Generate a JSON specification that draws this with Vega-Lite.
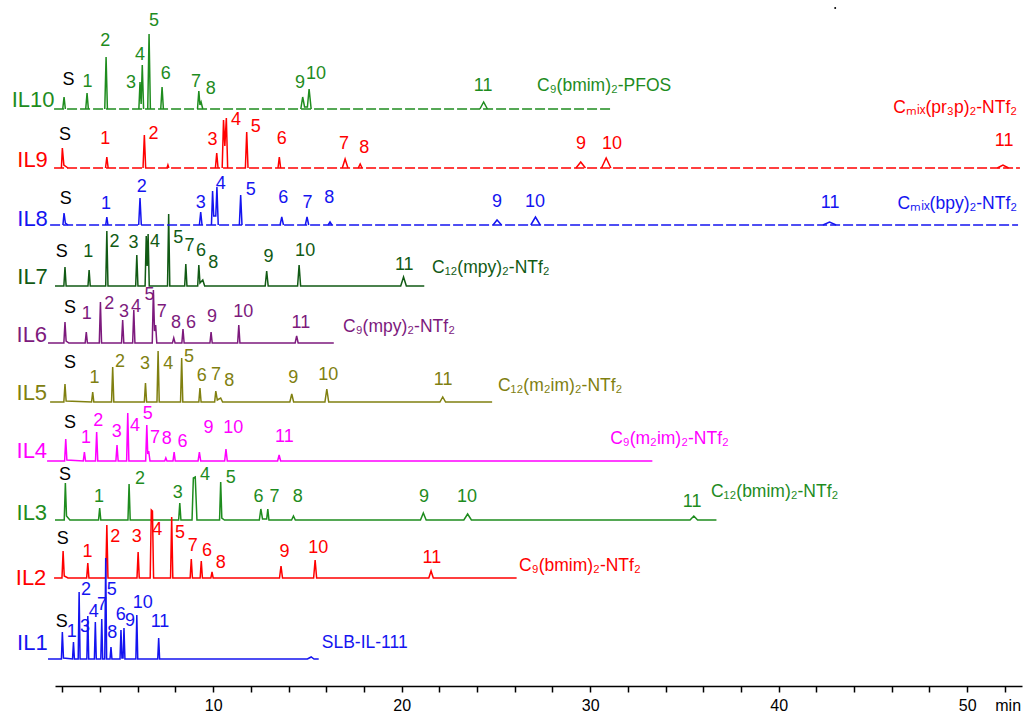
{
"$schema": "https://vega.github.io/schema/vega-lite/v6.json",
"width": 967, "height": 686,
"autosize": {"type": "none"},
"padding": {"left": 55, "right": 1, "top": 0, "bottom": 29},
"background": "white",
"config": {"view": {"stroke": null}, "font": "Liberation Sans"},
"datasets": {
"traces": [
{"s":"IL10","g":"IL10b","d":"dash","t":1.56,"v":577},{"s":"IL10","g":"IL10b","d":"dash","t":31.2,"v":577},
{"s":"IL10","g":"IL10p1","t":2.02,"v":577},{"s":"IL10","g":"IL10p1","t":2.09,"v":589},{"s":"IL10","g":"IL10p1","t":2.16,"v":577},
{"s":"IL10","g":"IL10p2","t":3.24,"v":577},{"s":"IL10","g":"IL10p2","t":3.31,"v":593},{"s":"IL10","g":"IL10p2","t":3.38,"v":577},
{"s":"IL10","g":"IL10p3","t":4.25,"v":577},{"s":"IL10","g":"IL10p3","t":4.32,"v":629},{"s":"IL10","g":"IL10p3","t":4.39,"v":577},
{"s":"IL10","g":"IL10p4","t":6.06,"v":577},{"s":"IL10","g":"IL10p4","t":6.12,"v":604},{"s":"IL10","g":"IL10p4","t":6.18,"v":582},{"s":"IL10","g":"IL10p4","t":6.24,"v":621},{"s":"IL10","g":"IL10p4","t":6.31,"v":577},
{"s":"IL10","g":"IL10p5","t":6.53,"v":577},{"s":"IL10","g":"IL10p5","t":6.60,"v":652},{"s":"IL10","g":"IL10p5","t":6.67,"v":577},
{"s":"IL10","g":"IL10p6","t":7.22,"v":577},{"s":"IL10","g":"IL10p6","t":7.29,"v":599},{"s":"IL10","g":"IL10p6","t":7.36,"v":577},
{"s":"IL10","g":"IL10p7","t":9.17,"v":577},{"s":"IL10","g":"IL10p7","t":9.24,"v":595},{"s":"IL10","g":"IL10p7","t":9.30,"v":581},{"s":"IL10","g":"IL10p7","t":9.36,"v":584},{"s":"IL10","g":"IL10p7","t":9.45,"v":577},
{"s":"IL10","g":"IL10p8","t":14.65,"v":577},{"s":"IL10","g":"IL10p8","t":14.75,"v":589},{"s":"IL10","g":"IL10p8","t":14.85,"v":579},{"s":"IL10","g":"IL10p8","t":15.00,"v":579},{"s":"IL10","g":"IL10p8","t":15.09,"v":597},{"s":"IL10","g":"IL10p8","t":15.20,"v":577},
{"s":"IL10","g":"IL10p9","t":24.15,"v":577},{"s":"IL10","g":"IL10p9","t":24.35,"v":584},{"s":"IL10","g":"IL10p9","t":24.55,"v":577},
{"s":"IL9","g":"IL9b","d":"dash","t":1.56,"v":518},{"s":"IL9","g":"IL9b","d":"dash","t":52.80,"v":518},
{"s":"IL9","g":"IL9p1","t":1.95,"v":518},{"s":"IL9","g":"IL9p1","t":2.00,"v":538},{"s":"IL9","g":"IL9p1","t":2.08,"v":521},{"s":"IL9","g":"IL9p1","t":2.30,"v":518},
{"s":"IL9","g":"IL9p2","t":4.29,"v":518},{"s":"IL9","g":"IL9p2","t":4.36,"v":529},{"s":"IL9","g":"IL9p2","t":4.43,"v":518},
{"s":"IL9","g":"IL9p3","t":6.28,"v":518},{"s":"IL9","g":"IL9p3","t":6.35,"v":551},{"s":"IL9","g":"IL9p3","t":6.42,"v":518},
{"s":"IL9","g":"IL9p4","t":7.55,"v":518},{"s":"IL9","g":"IL9p4","t":7.60,"v":521},{"s":"IL9","g":"IL9p4","t":7.65,"v":518},
{"s":"IL9","g":"IL9p5","t":10.12,"v":518},{"s":"IL9","g":"IL9p5","t":10.19,"v":533},{"s":"IL9","g":"IL9p5","t":10.26,"v":518},
{"s":"IL9","g":"IL9p6","t":10.48,"v":518},{"s":"IL9","g":"IL9p6","t":10.55,"v":566},{"s":"IL9","g":"IL9p6","t":10.62,"v":540},{"s":"IL9","g":"IL9p6","t":10.70,"v":568},{"s":"IL9","g":"IL9p6","t":10.77,"v":518},
{"s":"IL9","g":"IL9p7","t":11.71,"v":518},{"s":"IL9","g":"IL9p7","t":11.78,"v":554},{"s":"IL9","g":"IL9p7","t":11.85,"v":518},
{"s":"IL9","g":"IL9p8","t":13.44,"v":518},{"s":"IL9","g":"IL9p8","t":13.51,"v":529},{"s":"IL9","g":"IL9p8","t":13.58,"v":518},
{"s":"IL9","g":"IL9p9","t":16.85,"v":518},{"s":"IL9","g":"IL9p9","t":17.00,"v":527},{"s":"IL9","g":"IL9p9","t":17.15,"v":518},
{"s":"IL9","g":"IL9p10","t":17.70,"v":518},{"s":"IL9","g":"IL9p10","t":17.80,"v":522},{"s":"IL9","g":"IL9p10","t":17.90,"v":518},
{"s":"IL9","g":"IL9p11","t":29.25,"v":518},{"s":"IL9","g":"IL9p11","t":29.50,"v":524},{"s":"IL9","g":"IL9p11","t":29.75,"v":518},
{"s":"IL9","g":"IL9p12","t":30.60,"v":518},{"s":"IL9","g":"IL9p12","t":30.85,"v":528},{"s":"IL9","g":"IL9p12","t":31.10,"v":518},
{"s":"IL9","g":"IL9p13","t":51.60,"v":518},{"s":"IL9","g":"IL9p13","t":51.90,"v":521},{"s":"IL9","g":"IL9p13","t":52.20,"v":518},
{"s":"IL8","g":"IL8b","d":"dash","t":1.35,"v":461},{"s":"IL8","g":"IL8b","d":"dash","t":52.70,"v":461},
{"s":"IL8","g":"IL8p1","t":2.03,"v":461},{"s":"IL8","g":"IL8p1","t":2.09,"v":473},{"s":"IL8","g":"IL8p1","t":2.16,"v":463},{"s":"IL8","g":"IL8p1","t":2.30,"v":461},
{"s":"IL8","g":"IL8p2","t":4.30,"v":461},{"s":"IL8","g":"IL8p2","t":4.36,"v":469},{"s":"IL8","g":"IL8p2","t":4.42,"v":461},
{"s":"IL8","g":"IL8p3","t":6.05,"v":461},{"s":"IL8","g":"IL8p3","t":6.12,"v":488},{"s":"IL8","g":"IL8p3","t":6.19,"v":461},
{"s":"IL8","g":"IL8p4","t":9.27,"v":461},{"s":"IL8","g":"IL8p4","t":9.34,"v":474},{"s":"IL8","g":"IL8p4","t":9.41,"v":461},
{"s":"IL8","g":"IL8p5","t":9.91,"v":461},{"s":"IL8","g":"IL8p5","t":9.97,"v":495},{"s":"IL8","g":"IL8p5","t":10.03,"v":470},{"s":"IL8","g":"IL8p5","t":10.14,"v":470},{"s":"IL8","g":"IL8p5","t":10.20,"v":499},{"s":"IL8","g":"IL8p5","t":10.27,"v":461},
{"s":"IL8","g":"IL8p6","t":11.39,"v":461},{"s":"IL8","g":"IL8p6","t":11.46,"v":491},{"s":"IL8","g":"IL8p6","t":11.53,"v":461},
{"s":"IL8","g":"IL8p7","t":13.55,"v":461},{"s":"IL8","g":"IL8p7","t":13.64,"v":469},{"s":"IL8","g":"IL8p7","t":13.73,"v":461},
{"s":"IL8","g":"IL8p8","t":14.89,"v":461},{"s":"IL8","g":"IL8p8","t":14.98,"v":469},{"s":"IL8","g":"IL8p8","t":15.07,"v":461},
{"s":"IL8","g":"IL8p9","t":16.10,"v":461},{"s":"IL8","g":"IL8p9","t":16.20,"v":464},{"s":"IL8","g":"IL8p9","t":16.30,"v":461},
{"s":"IL8","g":"IL8p10","t":24.85,"v":461},{"s":"IL8","g":"IL8p10","t":25.06,"v":466},{"s":"IL8","g":"IL8p10","t":25.30,"v":461},
{"s":"IL8","g":"IL8p11","t":26.85,"v":461},{"s":"IL8","g":"IL8p11","t":27.10,"v":469},{"s":"IL8","g":"IL8p11","t":27.35,"v":461},
{"s":"IL8","g":"IL8p12","t":42.35,"v":461},{"s":"IL8","g":"IL8p12","t":42.70,"v":464},{"s":"IL8","g":"IL8p12","t":43.05,"v":461},
{"s":"IL7","t":1.61,"v":400},{"s":"IL7","t":2.08,"v":400},{"s":"IL7","t":2.14,"v":419},{"s":"IL7","t":2.20,"v":400},{"s":"IL7","t":3.36,"v":400},{"s":"IL7","t":3.42,"v":416},{"s":"IL7","t":3.48,"v":400},{"s":"IL7","t":4.30,"v":400},{"s":"IL7","t":4.36,"v":455},{"s":"IL7","t":4.42,"v":400},{"s":"IL7","t":5.89,"v":400},{"s":"IL7","t":5.95,"v":431},{"s":"IL7","t":6.01,"v":400},{"s":"IL7","t":6.39,"v":400},{"s":"IL7","t":6.45,"v":450},{"s":"IL7","t":6.50,"v":420},{"s":"IL7","t":6.55,"v":452},{"s":"IL7","t":6.61,"v":400},{"s":"IL7","t":7.58,"v":400},{"s":"IL7","t":7.64,"v":472},{"s":"IL7","t":7.70,"v":400},{"s":"IL7","t":8.49,"v":400},{"s":"IL7","t":8.55,"v":422},{"s":"IL7","t":8.61,"v":400},{"s":"IL7","t":9.18,"v":400},{"s":"IL7","t":9.24,"v":421},{"s":"IL7","t":9.30,"v":403},{"s":"IL7","t":9.45,"v":406},{"s":"IL7","t":9.55,"v":400},{"s":"IL7","t":12.76,"v":400},{"s":"IL7","t":12.84,"v":415},{"s":"IL7","t":12.92,"v":400},{"s":"IL7","t":14.48,"v":400},{"s":"IL7","t":14.56,"v":421},{"s":"IL7","t":14.64,"v":400},{"s":"IL7","t":19.95,"v":400},{"s":"IL7","t":20.10,"v":409},{"s":"IL7","t":20.25,"v":400},{"s":"IL7","t":21.20,"v":400},
{"s":"IL6","t":1.24,"v":343},{"s":"IL6","t":2.08,"v":343},{"s":"IL6","t":2.14,"v":364},{"s":"IL6","t":2.20,"v":345},{"s":"IL6","t":2.35,"v":343},{"s":"IL6","t":3.21,"v":343},{"s":"IL6","t":3.27,"v":354},{"s":"IL6","t":3.33,"v":343},{"s":"IL6","t":3.96,"v":343},{"s":"IL6","t":4.02,"v":384},{"s":"IL6","t":4.08,"v":343},{"s":"IL6","t":5.14,"v":343},{"s":"IL6","t":5.20,"v":366},{"s":"IL6","t":5.26,"v":343},{"s":"IL6","t":5.73,"v":343},{"s":"IL6","t":5.79,"v":376},{"s":"IL6","t":5.85,"v":343},{"s":"IL6","t":6.77,"v":343},{"s":"IL6","t":6.83,"v":396},{"s":"IL6","t":6.89,"v":355},{"s":"IL6","t":6.95,"v":361},{"s":"IL6","t":7.01,"v":343},{"s":"IL6","t":7.84,"v":343},{"s":"IL6","t":7.91,"v":348},{"s":"IL6","t":7.98,"v":343},{"s":"IL6","t":8.34,"v":343},{"s":"IL6","t":8.40,"v":357},{"s":"IL6","t":8.46,"v":343},{"s":"IL6","t":9.83,"v":343},{"s":"IL6","t":9.89,"v":354},{"s":"IL6","t":9.95,"v":343},{"s":"IL6","t":11.30,"v":343},{"s":"IL6","t":11.36,"v":361},{"s":"IL6","t":11.42,"v":343},{"s":"IL6","t":14.35,"v":343},{"s":"IL6","t":14.43,"v":350},{"s":"IL6","t":14.51,"v":343},{"s":"IL6","t":16.40,"v":343},
{"s":"IL5","t":1.35,"v":284},{"s":"IL5","t":2.08,"v":284},{"s":"IL5","t":2.14,"v":302},{"s":"IL5","t":2.20,"v":285},{"s":"IL5","t":3.55,"v":284},{"s":"IL5","t":3.61,"v":294},{"s":"IL5","t":3.67,"v":284},{"s":"IL5","t":4.61,"v":284},{"s":"IL5","t":4.67,"v":319},{"s":"IL5","t":4.73,"v":284},{"s":"IL5","t":6.35,"v":284},{"s":"IL5","t":6.41,"v":303},{"s":"IL5","t":6.47,"v":284},{"s":"IL5","t":7.02,"v":284},{"s":"IL5","t":7.08,"v":335},{"s":"IL5","t":7.14,"v":284},{"s":"IL5","t":8.27,"v":284},{"s":"IL5","t":8.33,"v":328},{"s":"IL5","t":8.39,"v":284},{"s":"IL5","t":9.24,"v":284},{"s":"IL5","t":9.30,"v":298},{"s":"IL5","t":9.36,"v":284},{"s":"IL5","t":10.08,"v":284},{"s":"IL5","t":10.14,"v":295},{"s":"IL5","t":10.22,"v":286},{"s":"IL5","t":10.40,"v":288},{"s":"IL5","t":10.50,"v":284},{"s":"IL5","t":14.07,"v":284},{"s":"IL5","t":14.17,"v":292},{"s":"IL5","t":14.27,"v":284},{"s":"IL5","t":15.93,"v":284},{"s":"IL5","t":16.03,"v":297},{"s":"IL5","t":16.13,"v":284},{"s":"IL5","t":22.03,"v":284},{"s":"IL5","t":22.18,"v":289},{"s":"IL5","t":22.33,"v":284},{"s":"IL5","t":24.80,"v":284},
{"s":"IL4","t":1.19,"v":225},{"s":"IL4","t":2.12,"v":225},{"s":"IL4","t":2.18,"v":247},{"s":"IL4","t":2.24,"v":226},{"s":"IL4","t":3.11,"v":225},{"s":"IL4","t":3.17,"v":234},{"s":"IL4","t":3.23,"v":225},{"s":"IL4","t":3.76,"v":225},{"s":"IL4","t":3.82,"v":254},{"s":"IL4","t":3.88,"v":225},{"s":"IL4","t":4.84,"v":225},{"s":"IL4","t":4.90,"v":241},{"s":"IL4","t":4.96,"v":225},{"s":"IL4","t":5.41,"v":225},{"s":"IL4","t":5.47,"v":273},{"s":"IL4","t":5.53,"v":225},{"s":"IL4","t":6.42,"v":225},{"s":"IL4","t":6.48,"v":261},{"s":"IL4","t":6.53,"v":232},{"s":"IL4","t":6.58,"v":235},{"s":"IL4","t":6.65,"v":225},{"s":"IL4","t":7.43,"v":225},{"s":"IL4","t":7.49,"v":228},{"s":"IL4","t":7.55,"v":225},{"s":"IL4","t":7.87,"v":225},{"s":"IL4","t":7.93,"v":234},{"s":"IL4","t":7.99,"v":225},{"s":"IL4","t":9.20,"v":225},{"s":"IL4","t":9.27,"v":234},{"s":"IL4","t":9.34,"v":225},{"s":"IL4","t":10.61,"v":225},{"s":"IL4","t":10.68,"v":237},{"s":"IL4","t":10.75,"v":225},{"s":"IL4","t":13.42,"v":225},{"s":"IL4","t":13.50,"v":231},{"s":"IL4","t":13.58,"v":225},{"s":"IL4","t":33.30,"v":225},
{"s":"IL3","t":1.61,"v":166},{"s":"IL3","t":2.10,"v":166},{"s":"IL3","t":2.16,"v":203},{"s":"IL3","t":2.22,"v":170},{"s":"IL3","t":2.40,"v":166},{"s":"IL3","t":3.92,"v":166},{"s":"IL3","t":3.98,"v":178},{"s":"IL3","t":4.04,"v":166},{"s":"IL3","t":5.48,"v":166},{"s":"IL3","t":5.54,"v":202},{"s":"IL3","t":5.60,"v":166},{"s":"IL3","t":8.17,"v":166},{"s":"IL3","t":8.23,"v":183},{"s":"IL3","t":8.29,"v":166},{"s":"IL3","t":8.88,"v":166},{"s":"IL3","t":8.95,"v":208},{"s":"IL3","t":9.05,"v":209},{"s":"IL3","t":9.14,"v":166},{"s":"IL3","t":10.34,"v":166},{"s":"IL3","t":10.40,"v":204},{"s":"IL3","t":10.46,"v":168},{"s":"IL3","t":10.60,"v":166},{"s":"IL3","t":12.45,"v":166},{"s":"IL3","t":12.53,"v":177},{"s":"IL3","t":12.62,"v":167},{"s":"IL3","t":12.84,"v":167},{"s":"IL3","t":12.90,"v":177},{"s":"IL3","t":12.96,"v":166},{"s":"IL3","t":14.16,"v":166},{"s":"IL3","t":14.26,"v":170},{"s":"IL3","t":14.36,"v":166},{"s":"IL3","t":21.00,"v":166},{"s":"IL3","t":21.15,"v":173},{"s":"IL3","t":21.30,"v":166},{"s":"IL3","t":23.30,"v":166},{"s":"IL3","t":23.50,"v":172},{"s":"IL3","t":23.70,"v":166},{"s":"IL3","t":35.30,"v":166},{"s":"IL3","t":35.50,"v":170},{"s":"IL3","t":35.70,"v":166},{"s":"IL3","t":36.70,"v":166},
{"s":"IL2","t":1.56,"v":108},{"s":"IL2","t":1.98,"v":108},{"s":"IL2","t":2.04,"v":135},{"s":"IL2","t":2.10,"v":110},{"s":"IL2","t":2.30,"v":108},{"s":"IL2","t":3.29,"v":108},{"s":"IL2","t":3.35,"v":123},{"s":"IL2","t":3.41,"v":108},{"s":"IL2","t":4.30,"v":108},{"s":"IL2","t":4.36,"v":161},{"s":"IL2","t":4.42,"v":108},{"s":"IL2","t":5.96,"v":108},{"s":"IL2","t":6.02,"v":134},{"s":"IL2","t":6.08,"v":108},{"s":"IL2","t":6.66,"v":108},{"s":"IL2","t":6.72,"v":176},{"s":"IL2","t":6.78,"v":175},{"s":"IL2","t":6.84,"v":108},{"s":"IL2","t":7.74,"v":108},{"s":"IL2","t":7.80,"v":169},{"s":"IL2","t":7.86,"v":108},{"s":"IL2","t":8.78,"v":108},{"s":"IL2","t":8.84,"v":127},{"s":"IL2","t":8.90,"v":108},{"s":"IL2","t":9.31,"v":108},{"s":"IL2","t":9.37,"v":125},{"s":"IL2","t":9.43,"v":108},{"s":"IL2","t":9.88,"v":108},{"s":"IL2","t":9.94,"v":114},{"s":"IL2","t":10.00,"v":108},{"s":"IL2","t":13.52,"v":108},{"s":"IL2","t":13.60,"v":120},{"s":"IL2","t":13.68,"v":108},{"s":"IL2","t":15.33,"v":108},{"s":"IL2","t":15.41,"v":126},{"s":"IL2","t":15.49,"v":108},{"s":"IL2","t":21.44,"v":108},{"s":"IL2","t":21.56,"v":115},{"s":"IL2","t":21.68,"v":108},{"s":"IL2","t":26.10,"v":108},
{"s":"IL1","t":1.24,"v":27},{"s":"IL1","t":1.95,"v":27},{"s":"IL1","t":2.00,"v":54},{"s":"IL1","t":2.06,"v":28},{"s":"IL1","t":2.54,"v":27},{"s":"IL1","t":2.59,"v":44},{"s":"IL1","t":2.64,"v":27},{"s":"IL1","t":2.84,"v":27},{"s":"IL1","t":2.89,"v":94},{"s":"IL1","t":2.94,"v":27},{"s":"IL1","t":3.30,"v":27},{"s":"IL1","t":3.35,"v":70},{"s":"IL1","t":3.40,"v":27},{"s":"IL1","t":3.70,"v":27},{"s":"IL1","t":3.75,"v":64},{"s":"IL1","t":3.80,"v":27},{"s":"IL1","t":4.04,"v":27},{"s":"IL1","t":4.09,"v":67},{"s":"IL1","t":4.14,"v":27},{"s":"IL1","t":4.25,"v":27},{"s":"IL1","t":4.30,"v":128},{"s":"IL1","t":4.35,"v":27},{"s":"IL1","t":4.53,"v":27},{"s":"IL1","t":4.58,"v":39},{"s":"IL1","t":4.63,"v":27},{"s":"IL1","t":5.06,"v":27},{"s":"IL1","t":5.11,"v":56},{"s":"IL1","t":5.16,"v":28},{"s":"IL1","t":5.22,"v":28},{"s":"IL1","t":5.27,"v":58},{"s":"IL1","t":5.32,"v":27},{"s":"IL1","t":5.90,"v":27},{"s":"IL1","t":5.95,"v":71},{"s":"IL1","t":6.00,"v":27},{"s":"IL1","t":7.06,"v":27},{"s":"IL1","t":7.11,"v":48},{"s":"IL1","t":7.16,"v":27},{"s":"IL1","t":15.00,"v":27},{"s":"IL1","t":15.20,"v":29},{"s":"IL1","t":15.35,"v":27},{"s":"IL1","t":15.60,"v":27}
],
"labels": [
{"s":"S","t":2.32,"v":606,"lab":"S"},{"s":"IL10","t":3.33,"v":604.3,"lab":"1"},{"s":"IL10","t":4.27,"v":645.3,"lab":"2"},{"s":"IL10","t":5.64,"v":602.7,"lab":"3"},{"s":"IL10","t":6.12,"v":631,"lab":"4"},{"s":"IL10","t":6.86,"v":665.3,"lab":"5"},{"s":"IL10","t":7.49,"v":612,"lab":"6"},{"s":"IL10","t":9.09,"v":604.3,"lab":"7"},{"s":"IL10","t":9.87,"v":596.7,"lab":"8"},{"s":"IL10","t":14.61,"v":602.7,"lab":"9"},{"s":"IL10","t":15.46,"v":612,"lab":"10"},{"s":"IL10","t":24.32,"v":600,"lab":"11"},
{"s":"S","t":2.14,"v":551,"lab":"S"},{"s":"IL9","t":4.27,"v":546.7,"lab":"1"},{"s":"IL9","t":6.83,"v":552,"lab":"2"},{"s":"IL9","t":9.96,"v":546,"lab":"3"},{"s":"IL9","t":11.21,"v":566,"lab":"4"},{"s":"IL9","t":12.26,"v":559.3,"lab":"5"},{"s":"IL9","t":13.64,"v":546.7,"lab":"6"},{"s":"IL9","t":16.94,"v":542,"lab":"7"},{"s":"IL9","t":18.01,"v":538,"lab":"8"},{"s":"IL9","t":29.52,"v":542,"lab":"9"},{"s":"IL9","t":31.16,"v":542,"lab":"10"},{"s":"IL9","t":51.96,"v":545,"lab":"11"},
{"s":"S","t":2.18,"v":486.7,"lab":"S"},{"s":"IL8","t":4.32,"v":482,"lab":"1"},{"s":"IL8","t":6.21,"v":499.3,"lab":"2"},{"s":"IL8","t":9.34,"v":482.7,"lab":"3"},{"s":"IL8","t":10.40,"v":502,"lab":"4"},{"s":"IL8","t":11.99,"v":496,"lab":"5"},{"s":"IL8","t":13.72,"v":487.7,"lab":"6"},{"s":"IL8","t":15.00,"v":482.7,"lab":"7"},{"s":"IL8","t":16.16,"v":487.7,"lab":"8"},{"s":"IL8","t":25.06,"v":484,"lab":"9"},{"s":"IL8","t":27.08,"v":484,"lab":"10"},{"s":"IL8","t":42.73,"v":483,"lab":"11"},
{"s":"S","t":1.97,"v":434.3,"lab":"S"},{"s":"IL7","t":3.38,"v":433.7,"lab":"1"},{"s":"IL7","t":4.76,"v":444.3,"lab":"2"},{"s":"IL7","t":5.77,"v":442.7,"lab":"3"},{"s":"IL7","t":6.92,"v":444.3,"lab":"4"},{"s":"IL7","t":8.15,"v":447.7,"lab":"5"},{"s":"IL7","t":8.74,"v":440.3,"lab":"7"},{"s":"IL7","t":9.36,"v":435,"lab":"6"},{"s":"IL7","t":10.01,"v":422.7,"lab":"8"},{"s":"IL7","t":12.93,"v":429.3,"lab":"9"},{"s":"IL7","t":14.88,"v":435,"lab":"10"},{"s":"IL7","t":20.14,"v":421,"lab":"11"},
{"s":"S","t":2.41,"v":378.3,"lab":"S"},{"s":"IL6","t":3.29,"v":371.7,"lab":"1"},{"s":"IL6","t":4.49,"v":381.7,"lab":"2"},{"s":"IL6","t":5.27,"v":373.7,"lab":"3"},{"s":"IL6","t":5.91,"v":379.3,"lab":"4"},{"s":"IL6","t":6.62,"v":391,"lab":"5"},{"s":"IL6","t":7.27,"v":373.7,"lab":"7"},{"s":"IL6","t":8.03,"v":363.3,"lab":"8"},{"s":"IL6","t":8.83,"v":363.3,"lab":"6"},{"s":"IL6","t":9.94,"v":369.3,"lab":"9"},{"s":"IL6","t":11.60,"v":374.3,"lab":"10"},{"s":"IL6","t":14.65,"v":362.7,"lab":"11"},
{"s":"S","t":2.41,"v":322.7,"lab":"S"},{"s":"IL5","t":3.70,"v":307.7,"lab":"1"},{"s":"IL5","t":5.06,"v":324.3,"lab":"2"},{"s":"IL5","t":6.39,"v":321.7,"lab":"3"},{"s":"IL5","t":7.62,"v":321.7,"lab":"4"},{"s":"IL5","t":8.72,"v":329.3,"lab":"5"},{"s":"IL5","t":9.40,"v":310.3,"lab":"6"},{"s":"IL5","t":10.15,"v":311,"lab":"7"},{"s":"IL5","t":10.86,"v":305.3,"lab":"8"},{"s":"IL5","t":14.25,"v":307.7,"lab":"9"},{"s":"IL5","t":16.11,"v":311,"lab":"10"},{"s":"IL5","t":22.20,"v":306,"lab":"11"},
{"s":"S","t":2.41,"v":262.7,"lab":"S"},{"s":"IL4","t":3.26,"v":248.3,"lab":"1"},{"s":"IL4","t":3.91,"v":265,"lab":"2"},{"s":"IL4","t":4.89,"v":253.7,"lab":"3"},{"s":"IL4","t":5.86,"v":260.3,"lab":"4"},{"s":"IL4","t":6.53,"v":271.7,"lab":"5"},{"s":"IL4","t":6.92,"v":248.3,"lab":"7"},{"s":"IL4","t":7.54,"v":247,"lab":"8"},{"s":"IL4","t":8.37,"v":244.3,"lab":"6"},{"s":"IL4","t":9.75,"v":257.7,"lab":"9"},{"s":"IL4","t":11.07,"v":258.3,"lab":"10"},{"s":"IL4","t":13.78,"v":249.3,"lab":"11"},
{"s":"S","t":2.14,"v":211,"lab":"S"},{"s":"IL3","t":3.95,"v":189.3,"lab":"1"},{"s":"IL3","t":6.12,"v":206.7,"lab":"2"},{"s":"IL3","t":8.12,"v":193.3,"lab":"3"},{"s":"IL3","t":9.57,"v":211,"lab":"4"},{"s":"IL3","t":10.93,"v":207.7,"lab":"5"},{"s":"IL3","t":12.40,"v":188.7,"lab":"6"},{"s":"IL3","t":13.25,"v":188.7,"lab":"7"},{"s":"IL3","t":14.49,"v":188.7,"lab":"8"},{"s":"IL3","t":21.19,"v":188.7,"lab":"9"},{"s":"IL3","t":23.47,"v":189,"lab":"10"},{"s":"IL3","t":35.41,"v":184,"lab":"11"},
{"s":"S","t":2.02,"v":146.7,"lab":"S"},{"s":"IL2","t":3.33,"v":134.3,"lab":"1"},{"s":"IL2","t":4.80,"v":149.3,"lab":"2"},{"s":"IL2","t":5.95,"v":148.7,"lab":"3"},{"s":"IL2","t":7.04,"v":156,"lab":"4"},{"s":"IL2","t":8.24,"v":152.7,"lab":"5"},{"s":"IL2","t":8.92,"v":140,"lab":"7"},{"s":"IL2","t":9.68,"v":135.3,"lab":"6"},{"s":"IL2","t":10.40,"v":122.7,"lab":"8"},{"s":"IL2","t":13.78,"v":134.3,"lab":"9"},{"s":"IL2","t":15.58,"v":137.7,"lab":"10"},{"s":"IL2","t":21.60,"v":127.7,"lab":"11"},
{"s":"S","t":1.97,"v":64.3,"lab":"S"},{"s":"IL1","t":2.50,"v":54.3,"lab":"1"},{"s":"IL1","t":3.20,"v":59.3,"lab":"3"},{"s":"IL1","t":3.26,"v":96,"lab":"2"},{"s":"IL1","t":3.66,"v":74.3,"lab":"4"},{"s":"IL1","t":4.11,"v":81,"lab":"7"},{"s":"IL1","t":4.62,"v":96,"lab":"5"},{"s":"IL1","t":4.65,"v":53.3,"lab":"8"},{"s":"IL1","t":5.10,"v":71,"lab":"6"},{"s":"IL1","t":5.59,"v":65.3,"lab":"9"},{"s":"IL1","t":6.27,"v":82.7,"lab":"10"},{"s":"IL1","t":7.18,"v":64.3,"lab":"11"}
],
"ilnames": [
{"s":"IL10","t":0.45,"v":586,"lab":"IL10"},{"s":"IL9","t":0.42,"v":526,"lab":"IL9"},{"s":"IL8","t":0.42,"v":466.7,"lab":"IL8"},{"s":"IL7","t":0.42,"v":409.3,"lab":"IL7"},{"s":"IL6","t":0.38,"v":351,"lab":"IL6"},{"s":"IL5","t":0.38,"v":292.7,"lab":"IL5"},{"s":"IL4","t":0.38,"v":235,"lab":"IL4"},{"s":"IL3","t":0.38,"v":172.7,"lab":"IL3"},{"s":"IL2","t":0.34,"v":107.7,"lab":"IL2"},{"s":"IL1","t":0.41,"v":42.7,"lab":"IL1"}
],
"cnleft": [
{"s":"IL10","t":27.18,"v":600,"lab":"C₉(bmim)₂-PFOS"},{"s":"IL7","t":21.61,"v":418,"lab":"C₁₂(mpy)₂-NTf₂"},{"s":"IL6","t":16.89,"v":359,"lab":"C₉(mpy)₂-NTf₂"},{"s":"IL5","t":25.11,"v":300,"lab":"C₁₂(m₂im)₂-NTf₂"},{"s":"IL4","t":31.06,"v":247,"lab":"C₉(m₂im)₂-NTf₂"},{"s":"IL3","t":36.41,"v":194,"lab":"C₁₂(bmim)₂-NTf₂"},{"s":"IL2","t":26.23,"v":120,"lab":"C₉(bmim)₂-NTf₂"},{"s":"IL1","t":15.76,"v":43.3,"lab":"SLB-IL-111"}
],
"cnright": [
{"s":"IL9","t":52.65,"v":578,"lab":"Cₘᵢₓ(pr₃p)₂-NTf₂"},{"s":"IL8","t":52.65,"v":482,"lab":"Cₘᵢₓ(bpy)₂-NTf₂"}
],
"misc": [
{"s":"S","t":52.86,"v":-20,"lab":"min"}
],
"dot": [
{"s":"S","t":43.0,"v":678}
]
},
"encoding": {
"x": {"field": "t", "type": "quantitative",
  "scale": {"domain": [1.61, 52.91], "nice": false, "zero": false},
  "axis": {"title": null, "values": [2,4,6,8,10,12,14,16,18,20,22,24,26,28,30,32,34,36,38,40,42,44,46,48,50,52],
    "labelExpr": "datum.value % 10 === 0 ? datum.label : ''",
    "grid": false, "domainColor": "black", "domainWidth": 1.5, "tickColor": "black", "tickWidth": 1.5, "tickSize": 6,
    "labelFontSize": 16, "labelColor": "black", "labelPadding": 5, "labelFont": "Liberation Sans", "labelFlush": false, "labelOverlap": false}},
"y": {"field": "v", "type": "quantitative", "scale": {"domain": [0, 686], "nice": false, "zero": false}, "axis": null},
"color": {"field": "s", "type": "nominal", "legend": null,
  "scale": {"domain": ["IL1","IL2","IL3","IL4","IL5","IL6","IL7","IL8","IL9","IL10","S"],
            "range": ["#1414F0","#FF0000","#1E8C1E","#FF00FF","#808010","#7D1A7D","#115A14","#1414F0","#FF0000","#1E8C1E","#000000"]}}
},
"layer": [
{"data": {"name": "traces"}, "transform": [{"filter": "datum.d !== 'dash'"}],
 "mark": {"type": "line", "strokeWidth": 1.5}, "encoding": {"detail": {"field": "g"}}},
{"data": {"name": "traces"}, "transform": [{"filter": "datum.d === 'dash'"}],
 "mark": {"type": "line", "strokeWidth": 1.5, "strokeDash": [10, 3]}, "encoding": {"detail": {"field": "g"}}},
{"data": {"name": "labels"}, "mark": {"type": "text", "align": "center", "baseline": "middle", "fontSize": 18, "font": "Liberation Sans"},
 "encoding": {"text": {"field": "lab"}}},
{"data": {"name": "ilnames"}, "mark": {"type": "text", "align": "center", "baseline": "middle", "fontSize": 22, "font": "Liberation Sans"},
 "encoding": {"text": {"field": "lab"}}},
{"data": {"name": "cnleft"}, "mark": {"type": "text", "align": "left", "baseline": "middle", "fontSize": 17.5, "font": "Liberation Sans"},
 "encoding": {"text": {"field": "lab"}}},
{"data": {"name": "cnright"}, "mark": {"type": "text", "align": "right", "baseline": "middle", "fontSize": 17.5, "font": "Liberation Sans"},
 "encoding": {"text": {"field": "lab"}}},
{"data": {"name": "misc"}, "mark": {"type": "text", "align": "right", "baseline": "middle", "fontSize": 16, "font": "Liberation Sans"},
 "encoding": {"text": {"field": "lab"}}},
{"data": {"name": "dot"}, "mark": {"type": "circle", "size": 4, "opacity": 1}, "encoding": {}}
]
}
